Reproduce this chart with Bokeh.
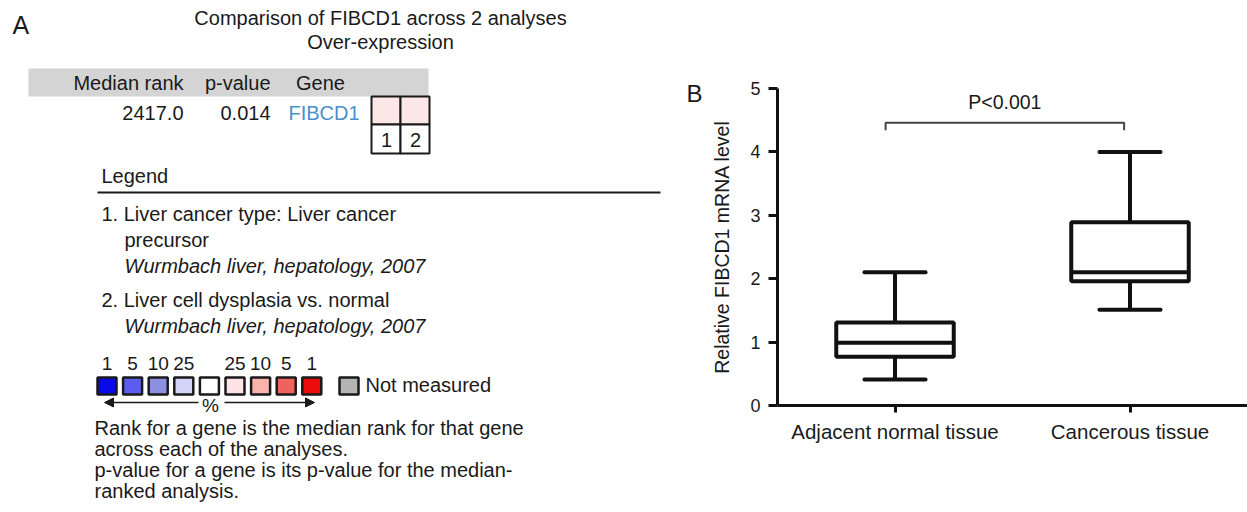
from bokeh.plotting import figure
from bokeh.layouts import row, column
from bokeh.models import Range1d, FixedTicker, Arrow, NormalHead
from bokeh.core.properties import value
from bokeh.embed import file_html
from bokeh.resources import INLINE

FONT = "Liberation Sans"

# ---------------- data ----------------
title_lines = ["Comparison of FIBCD1 across 2 analyses", "Over-expression"]
table_headers = ["Median rank", "p-value", "Gene"]
table_row = ["2417.0", "0.014", "FIBCD1"]
analysis_cells = ["1", "2"]
legend_title = "Legend"
legend_entries = [
    ["1. Liver cancer type: Liver cancer", "precursor", "Wurmbach liver, hepatology, 2007"],
    ["2. Liver cell dysplasia vs. normal", "Wurmbach liver, hepatology, 2007"],
]
scale_labels = ["1", "5", "10", "25", "", "25", "10", "5", "1"]
scale_colors = ["#0a0ae8", "#5c5cee", "#8c90e2", "#d3d4f5", "#ffffff",
                "#fde4e6", "#f7b3ac", "#f0625c", "#ec0c0c"]
not_measured_label = "Not measured"
not_measured_color = "#b4b4b4"
notes = ["Rank for a gene is the median rank for that gene",
         "across each of the analyses.",
         "p-value for a gene is its p-value for the median-",
         "ranked analysis."]

categories = ["Adjacent normal tissue", "Cancerous tissue"]
whisker_low = [0.41, 1.51]
q1 = [0.77, 1.96]
median = [0.99, 2.10]
q3 = [1.31, 2.89]
whisker_high = [2.10, 4.00]
y_ticks = [0, 1, 2, 3, 4, 5]
p_label = "P<0.001"
bracket_y = [4.34, 4.46]

# ---------------- panel A ----------------
pA = figure(width=708, height=512, x_range=Range1d(0, 708), y_range=Range1d(512, 0),
            output_backend="svg", toolbar_location=None,
            x_axis_location=None, y_axis_location=None,
            min_border=0, min_border_left=0, min_border_right=0,
            min_border_top=0, min_border_bottom=0)
pA.xgrid.visible = False
pA.ygrid.visible = False
pA.outline_line_color = None


def txt(p, x, y, s, size="20px", align="left", color="#1a1a1a", style="normal"):
    p.text(x=[x], y=[y], text=[s], text_font=value(FONT), text_font_size=size,
           text_align=align, text_baseline="middle", text_color=color,
           text_font_style=style)


txt(pA, 12, 24, "A", size="25px")
txt(pA, 686, 93, "B", size="24px")
txt(pA, 380, 17, title_lines[0], align="center")
txt(pA, 380, 41, title_lines[1], align="center")

# table header
pA.quad(left=[28], right=[428], top=[68], bottom=[96], fill_color="#d4d4d4", line_color=None)
txt(pA, 183, 82, table_headers[0], align="right")
txt(pA, 270, 82, table_headers[1], align="right")
txt(pA, 320, 82, table_headers[2], align="center")
txt(pA, 183, 112, table_row[0], align="right")
txt(pA, 270, 112, table_row[1], align="right")
txt(pA, 288, 112, table_row[2], align="left", color="#4a90cc")

# analysis cells
cell_l = [371 + 29 * i for i in range(len(analysis_cells))]
pA.quad(left=cell_l, right=[l + 29 for l in cell_l], top=[96] * len(cell_l),
        bottom=[124] * len(cell_l), fill_color="#fde6e6", line_color="#1a1a1a", line_width=2)
pA.quad(left=cell_l, right=[l + 29 for l in cell_l], top=[124] * len(cell_l),
        bottom=[153] * len(cell_l), fill_color="#ffffff", line_color="#1a1a1a", line_width=2)
for l, s in zip(cell_l, analysis_cells):
    txt(pA, l + 15, 139, s, align="center")

# legend
txt(pA, 101, 175, legend_title)
pA.segment(x0=[97], y0=[192], x1=[660], y1=[192], line_color="#1a1a1a", line_width=2)
txt(pA, 101, 213, legend_entries[0][0])
txt(pA, 124, 239, legend_entries[0][1])
txt(pA, 124, 265, legend_entries[0][2], style="italic")
txt(pA, 101, 299, legend_entries[1][0])
txt(pA, 124, 325, legend_entries[1][1], style="italic")

# colour scale
sl = [97 + 25.6 * i for i in range(len(scale_colors))]
pA.quad(left=sl, right=[l + 19 for l in sl], top=[377] * len(sl), bottom=[394] * len(sl),
        fill_color=scale_colors, line_color="#1a1a1a", line_width=2.5)
for l, s in zip(sl, scale_labels):
    if s:
        txt(pA, l + 9.5, 363, s, size="19px", align="center")
pA.quad(left=[339], right=[358], top=[377], bottom=[394], fill_color=not_measured_color,
        line_color="#1a1a1a", line_width=2.5)
txt(pA, 365, 384, not_measured_label)
pA.add_layout(Arrow(end=NormalHead(size=9, fill_color="#1a1a1a", line_color="#1a1a1a"),
                    x_start=198, y_start=402, x_end=104, y_end=402,
                    line_color="#1a1a1a", line_width=1.5))
pA.add_layout(Arrow(end=NormalHead(size=9, fill_color="#1a1a1a", line_color="#1a1a1a"),
                    x_start=224, y_start=402, x_end=314, y_end=402,
                    line_color="#1a1a1a", line_width=1.5))
txt(pA, 210, 405, "%", size="19px", align="center")

for i, s in enumerate(notes):
    txt(pA, 94, 427 + 21 * i, s)

# ---------------- panel B ----------------
pB = figure(width=539, height=512, x_range=Range1d(0.5, 2.5), y_range=Range1d(0, 5),
            output_backend="svg", toolbar_location=None,
            min_border_left=65, min_border_right=0, min_border_top=88, min_border_bottom=107)
pB.xgrid.visible = False
pB.ygrid.visible = False
pB.outline_line_color = None

xs = [i + 1 for i in range(len(categories))]
pB.segment(x0=xs, y0=q3, x1=xs, y1=whisker_high, line_color="#111111", line_width=4)
pB.segment(x0=xs, y0=q1, x1=xs, y1=whisker_low, line_color="#111111", line_width=4)
pB.segment(x0=[x - 0.13 for x in xs], y0=whisker_high, x1=[x + 0.13 for x in xs], y1=whisker_high,
           line_color="#111111", line_width=4, line_cap="round")
pB.segment(x0=[x - 0.13 for x in xs], y0=whisker_low, x1=[x + 0.13 for x in xs], y1=whisker_low,
           line_color="#111111", line_width=4, line_cap="round")
pB.vbar(x=xs, width=0.5, bottom=q1, top=q3, fill_color="white", line_color="#111111", line_width=4)
pB.segment(x0=[x - 0.25 for x in xs], y0=median, x1=[x + 0.25 for x in xs], y1=median,
           line_color="#111111", line_width=4)

# significance bracket
bx0, bx1 = xs[0] - 0.04, xs[1] - 0.025
pB.line(x=[bx0, bx0, bx1, bx1], y=[bracket_y[0], bracket_y[1], bracket_y[1], bracket_y[0]],
        line_color="#444444", line_width=2)
pB.text(x=[(bx0 + bx1) / 2], y=[4.78], text=[p_label], text_font=value(FONT),
        text_font_size="19.5px", text_align="center", text_baseline="middle", text_color="#1a1a1a")

yax = pB.yaxis[0]
yax.ticker = FixedTicker(ticks=y_ticks)
yax.axis_line_width = 3
yax.axis_line_color = "#111111"
yax.major_tick_line_width = 3
yax.major_tick_line_color = "#111111"
yax.major_tick_out = 9
yax.major_tick_in = 0
yax.minor_tick_line_color = None
yax.major_label_text_font = FONT
yax.major_label_text_font_size = "18px"
yax.major_label_text_color = "#1a1a1a"
yax.major_label_standoff = 8
yax.axis_label = "Relative FIBCD1 mRNA level"
yax.axis_label_text_font = FONT
yax.axis_label_text_font_size = "19.5px"
yax.axis_label_text_font_style = "normal"
yax.axis_label_text_color = "#1a1a1a"
yax.axis_label_standoff = 14

xax = pB.xaxis[0]
xax.ticker = FixedTicker(ticks=xs)
xax.major_label_overrides = {x: c for x, c in zip(xs, categories)}
xax.axis_line_width = 3
xax.axis_line_color = "#111111"
xax.major_tick_line_width = 3
xax.major_tick_line_color = "#111111"
xax.major_tick_out = 7
xax.major_tick_in = 0
xax.minor_tick_line_color = None
xax.major_label_text_font = FONT
xax.major_label_text_font_size = "20.5px"
xax.major_label_text_color = "#1a1a1a"
xax.major_label_standoff = 7

layout = row(column(pA), column(pB))
open("out.html", "w").write(file_html(layout, INLINE))
